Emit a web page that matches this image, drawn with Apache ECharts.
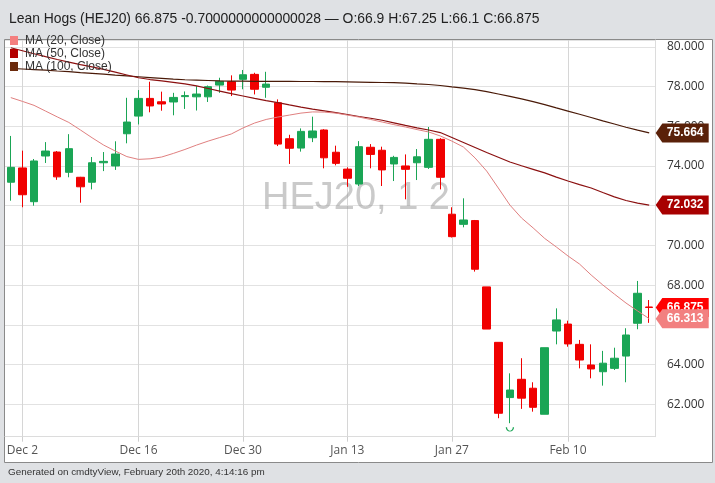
<!DOCTYPE html>
<html>
<head>
<meta charset="utf-8">
<script src="https://cdn.jsdelivr.net/npm/echarts@6/dist/echarts.min.js"></script>
<style>html,body{margin:0;padding:0;background:#dfe1e4;}#c{width:715px;height:483px;}</style>
</head>
<body>
<div id="c"></div>
<script>
const dates = ['Nov 29','Dec 2','Dec 3','Dec 4','Dec 5','Dec 6','Dec 9','Dec 10','Dec 11','Dec 12','Dec 13',
'Dec 16','Dec 17','Dec 18','Dec 19','Dec 20','Dec 23','Dec 24','Dec 26','Dec 27',
'Dec 30','Dec 31','Jan 2','Jan 3','Jan 6','Jan 7','Jan 8','Jan 9','Jan 10',
'Jan 13','Jan 14','Jan 15','Jan 16','Jan 17','Jan 21','Jan 22','Jan 23','Jan 24',
'Jan 27','Jan 28','Jan 29','Jan 30','Jan 31','Feb 3','Feb 4','Feb 5','Feb 6','Feb 7',
'Feb 10','Feb 11','Feb 12','Feb 13','Feb 14','Feb 18','Feb 19','Feb 20'];
const labelDates = ['Dec 2','Dec 16','Dec 30','Jan 13','Jan 27','Feb 10'];

const opens  = [73.18,73.90,72.20,74.50,74.70,73.68,73.43,73.18,74.16,74.00,75.62,76.51,77.40,77.23,77.22,77.49,77.48,77.48,78.07,78.24,78.36,78.61,77.96,77.18,75.37,74.90,75.42,75.81,74.69,73.84,73.09,74.94,74.79,74.10,74.00,74.16,73.93,75.34,71.57,71.06,71.25,67.91,65.12,62.34,63.26,62.81,61.50,65.69,66.04,65.02,63.98,63.64,63.81,64.43,66.08,66.90];
const closes = [73.93,72.55,74.25,74.75,73.45,74.87,72.95,74.16,74.23,74.60,76.21,77.40,77.02,77.12,77.45,77.54,77.62,77.99,78.26,77.82,78.59,77.86,78.12,75.10,74.89,75.74,75.76,74.41,74.13,73.38,74.97,74.58,73.80,74.43,73.83,74.46,75.34,73.43,70.44,71.28,68.80,65.79,61.55,62.72,62.31,61.85,64.85,66.25,65.04,64.23,63.78,64.07,64.32,65.49,67.59,66.875];
const lows   = [72.25,71.92,72.00,74.15,73.30,73.43,72.15,72.82,73.74,73.80,75.14,76.09,76.70,76.78,76.55,76.87,76.79,77.22,77.68,77.52,77.86,77.60,77.43,75.00,74.10,74.72,75.20,73.88,74.03,72.95,72.99,73.88,72.99,73.24,72.32,73.29,73.85,72.82,70.40,70.91,68.68,65.79,61.30,61.05,61.77,61.63,61.50,65.02,64.90,63.81,63.31,62.94,63.73,63.11,65.78,66.10];
const highs  = [75.51,74.77,74.35,75.20,74.75,75.60,73.45,74.45,74.70,75.24,77.43,77.82,78.24,77.74,77.68,77.75,78.02,78.05,78.44,78.56,78.83,78.69,78.74,77.35,75.57,75.89,76.48,75.85,75.02,73.93,75.25,75.10,74.97,74.51,74.58,74.85,75.96,75.40,71.92,72.37,71.28,67.91,65.12,63.56,64.32,63.11,64.85,66.83,66.21,65.24,65.02,64.69,64.85,65.83,68.21,67.25];

const ma20  = [77.44,77.25,77.05,76.76,76.47,76.19,75.81,75.42,75.05,74.75,74.47,74.33,74.36,74.45,74.63,74.83,75.05,75.25,75.43,75.61,75.91,76.16,76.34,76.46,76.56,76.66,76.72,76.71,76.66,76.56,76.46,76.34,76.21,76.08,75.96,75.83,75.71,75.51,75.25,74.95,74.40,73.74,72.89,72.03,71.38,70.88,70.35,69.92,69.47,69.06,68.51,68.01,67.55,67.10,66.70,66.313];
const ma50  = [79.95,79.80,79.65,79.50,79.36,79.23,79.10,78.99,78.86,78.72,78.58,78.44,78.35,78.28,78.21,78.13,78.03,77.90,77.77,77.64,77.52,77.40,77.29,77.19,77.07,76.96,76.86,76.77,76.68,76.59,76.49,76.40,76.30,76.17,76.04,75.92,75.81,75.68,75.43,75.18,74.93,74.68,74.44,74.20,74.01,73.83,73.65,73.44,73.24,73.06,72.89,72.66,72.44,72.26,72.13,72.032];
const ma100 = [78.91,78.88,78.85,78.82,78.78,78.75,78.70,78.66,78.62,78.57,78.53,78.49,78.45,78.41,78.37,78.34,78.32,78.30,78.28,78.27,78.27,78.26,78.26,78.26,78.26,78.25,78.25,78.24,78.24,78.23,78.22,78.21,78.20,78.19,78.17,78.13,78.10,78.05,77.98,77.92,77.84,77.74,77.62,77.50,77.38,77.24,77.09,76.92,76.76,76.60,76.44,76.27,76.11,75.95,75.80,75.664];

const titleText = 'Lean Hogs (HEJ20) 66.875 -0.7000000000000028 \u2014 O:66.9 H:67.25 L:66.1 C:66.875';
const footerText = 'Generated on cmdtyView, February 20th 2020, 4:14:16 pm';
const watermarkText = 'HEJ20, 1 2';
const lowMarkDate = 'Feb 3';

const candleData = dates.map((d, i) => [opens[i], closes[i], lows[i], highs[i]]);
const lastIdx = dates.length - 1;
const lastDate = dates[lastIdx];
const labelIdx = labelDates.map(d => dates.indexOf(d));
const showAt = (i) => labelIdx.indexOf(i) >= 0;

const tagPath = 'path://M0,10 L7,0 L56,0 L56,20 L7,20 Z';
function tagItem(value, color) {
  return {
    coord: [lastDate, value], value: value,
    symbol: tagPath, symbolSize: [53, 19], symbolOffset: [33, 0],
    itemStyle: { color: color },
    label: {
      show: true, position: 'inside', offset: [3, 0],
      color: '#fff', fontWeight: 'bold', fontSize: 12, fontFamily: 'Liberation Sans',
      formatter: () => value.toFixed(3)
    }
  };
}
function tag(value, color, z, extra) {
  return { silent: true, z: z, data: [tagItem(value, color)].concat(extra || []) };
}

const lowIdx = dates.indexOf(lowMarkDate);
const lowMark = {
  coord: [lowMarkDate, lows[lowIdx]], value: lows[lowIdx],
  symbol: 'path://M0,0 A5,5 0 0 0 10,0', symbolSize: [7, 4], symbolOffset: [0, 6],
  itemStyle: { color: 'rgba(0,0,0,0)', borderColor: '#1aa555', borderWidth: 1 },
  label: { show: false }
};

const chart = echarts.init(document.getElementById('c'), null, { renderer: 'canvas' });
chart.setOption({
  backgroundColor: '#dfe1e4',
  animation: false,
  title: [
    { text: titleText, left: 9, top: 12, padding: 0, textStyle: { fontSize: 13.9, fontWeight: 'normal', color: '#222', fontFamily: 'Liberation Sans' } },
    { text: footerText, left: 8, top: 467, padding: 0, textStyle: { fontSize: 9.9, fontWeight: 'normal', color: '#333', fontFamily: 'Liberation Sans' } }
  ],
  graphic: [
    { type: 'rect', z: -10, shape: { x: 4.5, y: 39.5, width: 708, height: 423 }, style: { fill: '#fff', stroke: '#8a8a8a', lineWidth: 1 } },
    { type: 'text', z: 1, x: 262, y: 199, style: { text: watermarkText, font: '38px "Liberation Sans"', fill: 'rgba(150,150,150,0.5)', textVerticalAlign: 'middle' } }
  ],
  legend: {
    orient: 'vertical', left: 10, top: 34, padding: 0, itemGap: 0,
    itemWidth: 8, itemHeight: 9, icon: 'rect',
    data: ['MA (20, Close)', 'MA (50, Close)', 'MA (100, Close)'],
    textStyle: { fontSize: 12, color: '#333', fontFamily: 'Liberation Sans', lineHeight: 13, padding: [0, 0, 0, 2] }
  },
  grid: { left: 5, right: 60, top: 40, bottom: 46.3 },
  xAxis: {
    type: 'category', data: dates, boundaryGap: true,
    axisLine: { show: true, lineStyle: { color: '#dcdcdc' } },
    axisTick: { show: true, interval: (i) => showAt(i), alignWithLabel: true, length: 5, lineStyle: { color: '#cfcfcf' } },
    splitLine: { show: true, interval: (i) => showAt(i), alignWithLabel: true, lineStyle: { color: '#d6d6d6' } },
    axisLabel: { interval: (i) => showAt(i), color: '#555', fontSize: 12, fontFamily: 'Open Sans', margin: 8 }
  },
  yAxis: {
    type: 'value', position: 'right', min: 60.37, max: 80.34, splitNumber: 10, scale: true,
    axisLine: { show: true, lineStyle: { color: '#dcdcdc' } },
    axisTick: { show: false },
    splitLine: { show: true, lineStyle: { color: '#e2e2e2' } },
    axisLabel: { color: '#333', fontSize: 12, fontFamily: 'Open Sans', margin: 12, showMinLabel: false, showMaxLabel: false,
      formatter: (v) => v.toFixed(3) }
  },
  series: [
    {
      name: 'HEJ20', type: 'candlestick', data: candleData, barWidth: 8, z: 2,
      itemStyle: { color: '#1aa555', color0: '#f00000', borderColor: '#1aa555', borderColor0: '#f00000', borderWidth: 1 },
      markPoint: tag(closes[lastIdx], '#ff0000', 5, [lowMark])
    },
    {
      name: 'MA (100, Close)', type: 'line', data: ma100, symbol: 'none', z: 3,
      itemStyle: { color: '#6b2a0c' }, lineStyle: { color: '#4a1a08', width: 1.2 },
      markPoint: tag(ma100[lastIdx], '#5a2109', 6)
    },
    {
      name: 'MA (50, Close)', type: 'line', data: ma50, symbol: 'none', z: 3,
      itemStyle: { color: '#b30000' }, lineStyle: { color: '#8b1010', width: 1.2 },
      markPoint: tag(ma50[lastIdx], '#a80000', 7)
    },
    {
      name: 'MA (20, Close)', type: 'line', data: ma20, symbol: 'none', z: 3,
      itemStyle: { color: '#f47f7f' }, lineStyle: { color: '#e08080', width: 1 },
      markPoint: tag(ma20[lastIdx], '#f28080', 8)
    }
  ]
});
</script>
</body>
</html>
